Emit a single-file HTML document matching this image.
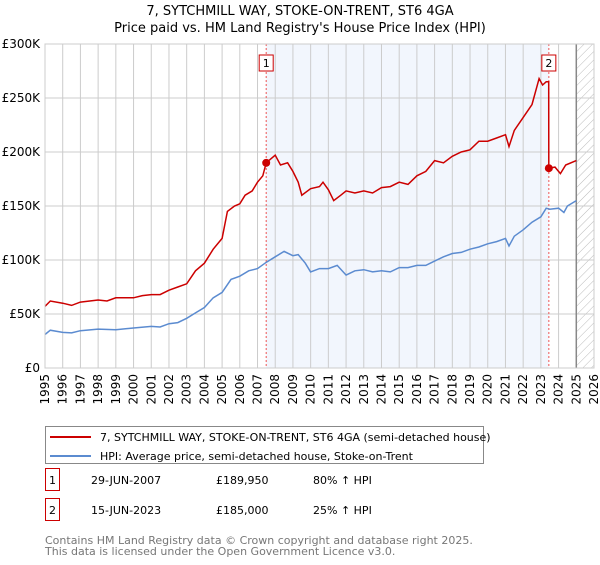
<!DOCTYPE html>
<html><head><meta charset="utf-8"><style>
body{margin:0;background:#fff;font-family:"Liberation Sans","DejaVu Sans",sans-serif;}
svg text{font-family:"DejaVu Sans","Liberation Sans",sans-serif;}
</style></head><body>
<svg id="c" width="600" height="560" xmlns="http://www.w3.org/2000/svg"></svg>
<script>
const hpiYears=[1995,1995.3,1996,1996.5,1997,1998,1999,2000,2001,2001.5,2002,2002.5,2003,2003.5,2004,2004.5,2005,2005.5,2006,2006.5,2007,2007.5,2008,2008.5,2009,2009.3,2009.7,2010,2010.5,2011,2011.5,2012,2012.5,2013,2013.5,2014,2014.5,2015,2015.5,2016,2016.5,2017,2017.5,2018,2018.5,2019,2019.5,2020,2020.5,2021,2021.2,2021.5,2022,2022.5,2023,2023.3,2023.5,2024,2024.3,2024.5,2025];
const hpiValues=[31,35,33,32.5,34.5,36,35.5,37,38.5,38,41,42,46,51,56,65,70,82,85,90,92,98,103,108,104,105,97,89,92,92,95,86,90,91,89,90,89,93,93,95,95,99,103,106,107,110,112,115,117,120,113,122,128,135,140,148,147,148,144,150,155];
const priceYears=[1995,1995.3,1996,1996.5,1997,1998,1998.5,1999,2000,2000.5,2001,2001.5,2002,2002.5,2003,2003.5,2004,2004.5,2005,2005.3,2005.7,2006,2006.3,2006.7,2007,2007.3,2007.49,2008,2008.3,2008.7,2009,2009.3,2009.5,2010,2010.5,2010.7,2011,2011.3,2011.7,2012,2012.5,2013,2013.5,2014,2014.5,2015,2015.5,2016,2016.5,2017,2017.5,2018,2018.5,2019,2019.5,2020,2020.5,2021,2021.2,2021.5,2022,2022.5,2022.9,2023.1,2023.3,2023.44,2023.45,2023.8,2024.1,2024.4,2025];
const priceValues=[57,62,60,58,61,63,62,65,65,67,68,68,72,75,78,90,97,110,120,145,150,152,160,164,172,178,190,197,188,190,182,172,160,166,168,172,165,155,160,164,162,164,162,167,168,172,170,178,182,192,190,196,200,202,210,210,213,216,205,220,232,244,268,262,265,265,185,186,180,188,192];
const sales=[{n:"1",year:2007.49,value:189.95},{n:"2",year:2023.45,value:185}];
const yTicks=[0,50,100,150,200,250,300];
const yLabels=["£0","£50K","£100K","£150K","£200K","£250K","£300K"];
const xTicks=[];for(let y=1995;y<=2026;y++)xTicks.push(y);

const L=45,R=594,T=44,B=368;
const X=y=>L+(y-1995)/(2026-1995)*(R-L);
const Y=v=>B-v/300*(B-T);
const NS="http://www.w3.org/2000/svg",svg=document.getElementById('c');
function el(t,a,p){const e=document.createElementNS(NS,t);for(const k in a)e.setAttribute(k,a[k]);(p||svg).appendChild(e);return e;}
// title
let t=el('text',{x:300,y:15,'text-anchor':'middle','font-size':13});t.textContent="7, SYTCHMILL WAY, STOKE-ON-TRENT, ST6 4GA";


t=el('text',{x:300,y:32,'text-anchor':'middle','font-size':13});t.textContent="Price paid vs. HM Land Registry's House Price Index (HPI)";


// shade
let s=el('rect',{x:X(sales[0].year),y:T,width:X(sales[1].year)-X(sales[0].year),height:B-T,fill:'#edf2fc',opacity:0.7});


// hatch
const defs=el('defs',{});
const pat=el('pattern',{id:'h',width:6,height:6,patternUnits:'userSpaceOnUse',patternTransform:'rotate(45)'},defs);
el('line',{x1:0,y1:0,x2:0,y2:6,stroke:'#bbb','stroke-width':1},pat);
s=el('rect',{x:X(2025),y:T,width:X(2026)-X(2025),height:B-T,fill:'url(#h)'});


// grid
xTicks.forEach(y=>{
  let g=el('line',{x1:X(y),x2:X(y),y1:T,y2:B,stroke:'#ccc','stroke-width':1});
  
  
  let tx=el('text',{x:0,y:0,'font-size':12,'text-anchor':'end',transform:`translate(${X(y)+4},${B+6}) rotate(-90)`});
  tx.textContent=y;
  
  
});
yTicks.forEach((v,i)=>{
  let g=el('line',{x1:L,x2:R,y1:Y(v),y2:Y(v),stroke:'#ccc','stroke-width':1});
  
  
  let tx=el('text',{x:L-5,y:Y(v)+4,'font-size':12,'text-anchor':'end'});
  tx.textContent=yLabels[i];
  
  
});
let ln=el('line',{x1:X(2025),x2:X(2025),y1:T,y2:B,stroke:'#888','stroke-width':1.5});


// sale lines
sales.forEach(sv=>{
  let d=el('line',{x1:X(sv.year),x2:X(sv.year),y1:T,y2:B,stroke:'#e55','stroke-width':1,'stroke-dasharray':'2,2'});
  
  
});
function path(xs,vs,col,name){
  const d=xs.map((x,i)=>(i?'L':'M')+X(x).toFixed(1)+','+Y(vs[i]).toFixed(1)).join('');
  const p=el('path',{d:d,fill:'none',stroke:col,'stroke-width':1.5});
  
  
}
path(hpiYears,hpiValues,'#5b8bd0','hpi-line');
path(priceYears,priceValues,'#cc0000','price-line');
sales.forEach(sv=>{
  let c=el('circle',{cx:X(sv.year),cy:Y(sv.value),r:4,fill:'#cc0000'});
  
  
  let b=el('rect',{x:X(sv.year)-7,y:55,width:14,height:16,fill:'#fff',stroke:'#cc0000'});
  
  
  let tx=el('text',{x:X(sv.year),y:67,'font-size':11,'text-anchor':'middle'});
  tx.textContent=sv.n;
  
  
});
let ax=el('rect',{x:L,y:T,width:R-L,height:B-T,fill:'none',stroke:'#ccc'});


// legend
const lg=el('g',{});


el('rect',{x:45.5,y:426.5,width:438,height:37,fill:'#fff',stroke:'#888'},lg);
el('line',{x1:50,x2:91,y1:437,y2:437,stroke:'#cc0000','stroke-width':2},lg);
el('line',{x1:50,x2:91,y1:456,y2:456,stroke:'#5b8bd0','stroke-width':2},lg);
t=el('text',{x:100,y:441,'font-size':11},lg);t.textContent="7, SYTCHMILL WAY, STOKE-ON-TRENT, ST6 4GA (semi-detached house)";


t=el('text',{x:100,y:460,'font-size':11},lg);t.textContent="HPI: Average price, semi-detached house, Stoke-on-Trent";


// table
const rows=[["1","29-JUN-2007","£189,950","80% ↑ HPI"],["2","15-JUN-2023","£185,000","25% ↑ HPI"]];
rows.forEach((r,i)=>{
  const y=484+i*30;
  let b=el('rect',{x:45.5,y:y-15.5,width:14,height:22,fill:'#fff',stroke:'#cc0000'});
  
  
  [[52.5,r[0]],[91,r[1]],[216,r[2]],[313,r[3]]].forEach(([x,s],j)=>{
    let tx=el('text',{x:x,y:y,'font-size':11,'text-anchor':j==0?'middle':'start'});
    tx.textContent=s;
    
    
  });
});
t=el('text',{x:45,y:544,'font-size':11,fill:'#777'});t.textContent="Contains HM Land Registry data © Crown copyright and database right 2025.";


t=el('text',{x:45,y:555,'font-size':11,fill:'#777'});t.textContent="This data is licensed under the Open Government Licence v3.0.";


</script>
</body></html>
